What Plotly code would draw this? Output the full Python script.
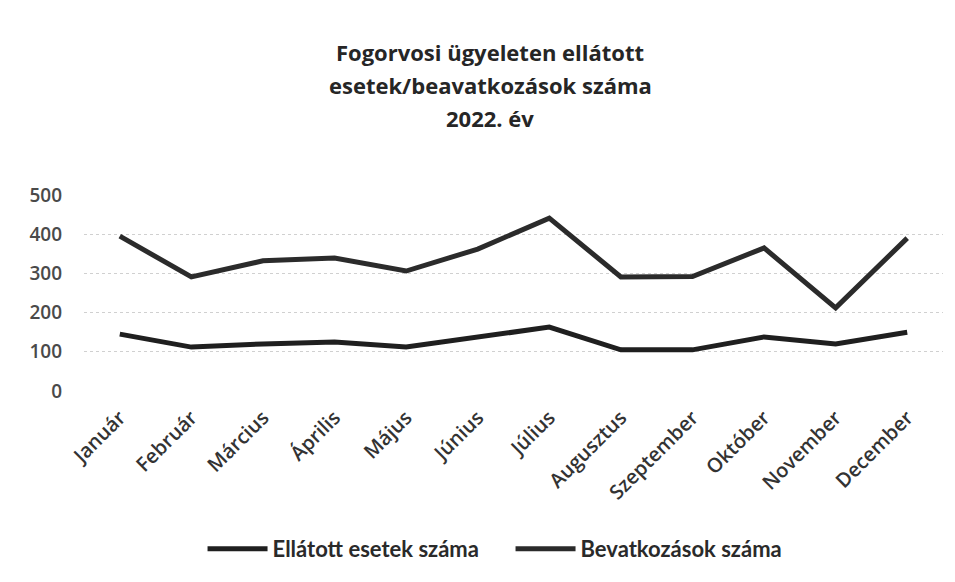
import plotly.graph_objects as go

months = ["Január", "Február", "Március", "Április", "Május", "Június",
          "Július", "Augusztus", "Szeptember", "Október", "November", "December"]
ellatott = [145, 112, 120, 125, 112, 138, 163, 105, 105, 138, 120, 150]
beavatkozas = [395, 291, 332, 339, 306, 362, 441, 291, 292, 365, 212, 390]
y_ticks = [0, 100, 200, 300, 400, 500]
title_lines = ["Fogorvosi ügyeleten ellátott", "esetek/beavatkozások száma", "2022. év"]

FONT = "Open Sans, Lato, sans-serif"
LFONT = "Lato, sans-serif"

fig = go.Figure()
fig.add_trace(go.Scatter(x=months, y=ellatott, mode="lines", name="Ellátott esetek száma",
                         line=dict(color="#1f1f1f", width=5)))
fig.add_trace(go.Scatter(x=months, y=beavatkozas, mode="lines", name="Bevatkozások száma",
                         line=dict(color="#2b2b2b", width=5)))

title_y = [1.730, 1.561, 1.393]
for txt, yy in zip(title_lines, title_y):
    fig.add_annotation(text="<b>%s</b>" % txt, xref="paper", yref="paper", x=0.473, y=yy,
                       xanchor="center", yanchor="middle", showarrow=False,
                       font=dict(family=FONT, size=22, color="#262626"))

fig.update_layout(
    width=955, height=582,
    paper_bgcolor="white", plot_bgcolor="white",
    margin=dict(l=76, r=20, t=187, b=199),
    font=dict(family=FONT, color="#3a3a3a"),
    showlegend=True,
    legend=dict(orientation="h", x=0.138, xanchor="left", y=-0.806, yanchor="middle",
                font=dict(family=LFONT, size=22, color="#2a2a2a", weight="bold"), itemwidth=60,
                entrywidth=233, bgcolor="rgba(0,0,0,0)"),
    xaxis=dict(tickangle=-45, tickfont=dict(family=FONT, size=20, color="#333333", weight=600),
               range=[-0.5, 11.5], ticklabelstandoff=10,
               showgrid=False, showline=False, ticks="", zeroline=False),
    yaxis=dict(range=[0, 500], tickvals=y_ticks,
               tickfont=dict(family=FONT, size=19, color="#4a4a4a", weight=600),
               showgrid=True, gridcolor="#d0d0d0", griddash="dot", gridwidth=1,
               zeroline=False, showline=False, ticks="", ticklabelstandoff=21),
)

fig.write_html("out.html")
